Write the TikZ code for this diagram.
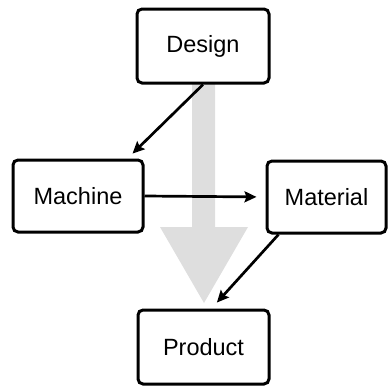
\documentclass[tikz,border=0pt]{standalone}
\usepackage{fontspec}
\setmainfont{Liberation Sans}
\usetikzlibrary{arrows.meta}
\begin{document}
\begin{tikzpicture}[x=1pt,y=-1pt,
  box/.style={draw=black, line width=3pt, rounded corners=5pt, fill=white,
    inner sep=0pt, font=\fontsize{23.5}{27}\selectfont},
  link/.style={line width=2.7pt, -{Stealth[length=12pt,width=11pt,inset=2pt]}},
  flow/.style={fill=black!13, draw=none}]
\useasboundingbox (0,0) rectangle (391,386);
% large background arrow from design down to product
\path[flow] (192,83) -- (215,83) -- (215,227) -- (248,227) -- (204,303)
  -- (160,227) -- (192,227) -- cycle;
\node[box, minimum width=132pt, minimum height=74pt] (design) at (203,46) {Design};
\node[box, minimum width=130pt, minimum height=72pt] (machine) at (78,196) {Machine};
\node[box, minimum width=119pt, minimum height=72pt] (material) at (326.5,197) {Material};
\node[box, minimum width=131pt, minimum height=74pt] (product) at (203.5,347) {Product};
\draw[link, shorten >=7pt] (design.south) -- ([xshift=-17pt]machine.north east);
\draw[link, shorten >=9pt] (machine.east) -- (material.west);
\draw[link, shorten >=8pt] ([xshift=13pt]material.south west) -- ([xshift=8pt]product.north);
\end{tikzpicture}
\end{document}
